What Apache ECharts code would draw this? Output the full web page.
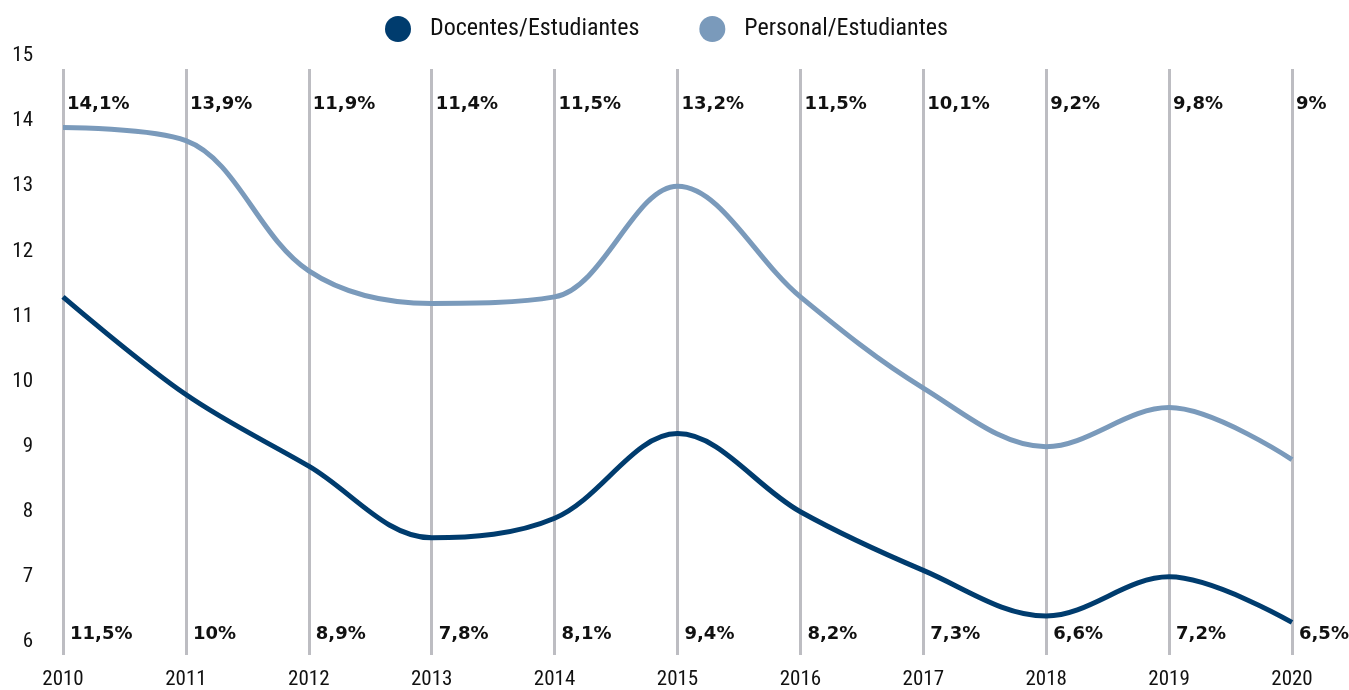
<!DOCTYPE html>
<html>
<head>
<meta charset="utf-8">
<script src="https://cdn.jsdelivr.net/npm/echarts@6/dist/echarts.min.js"></script>
<style>
  html, body { margin: 0; padding: 0; background: #ffffff; }
  #chart { width: 1349px; height: 690px; }
</style>
</head>
<body>
<div id="chart"></div>
<script>
// Ratio series, 2010-2020
const years = ['2010', '2011', '2012', '2013', '2014', '2015', '2016', '2017', '2018', '2019', '2020'];
const docentes = [11.5, 10, 8.9, 7.8, 8.1, 9.4, 8.2, 7.3, 6.6, 7.2, 6.5];
const personal = [14.1, 13.9, 11.9, 11.4, 11.5, 13.2, 11.5, 10.1, 9.2, 9.8, 9.0];
const yTicks = [6, 7, 8, 9, 10, 11, 12, 13, 14, 15];

const DARK = '#003c6e';
const LIGHT = '#7a9abb';
const narrow = "'Liberation Sans Narrow', 'Roboto Condensed', Roboto, sans-serif";
const boldLabel = "'DejaVu Sans', sans-serif";

const fmt = v => String(v).replace('.', ',') + '%';

// Text row of values pinned near the top or bottom of the plot, one per year
function labelRow(values, rowValue, dx) {
  return {
    type: 'custom',
    silent: true,
    data: values.map((v, i) => [i, v]),
    encode: { x: 0, y: 1 },
    renderItem: function (params, api) {
      const p = api.coord([api.value(0), rowValue]);
      return {
        type: 'text',
        x: p[0] + dx,
        y: p[1],
        style: {
          text: fmt(api.value(1)),
          fill: '#111111',
          font: 'bold 18px ' + boldLabel,
          verticalAlign: 'middle',
          align: 'left'
        }
      };
    },
    z: 5
  };
}

const chart = echarts.init(document.getElementById('chart'));
chart.setOption({
  animation: false,
  backgroundColor: '#ffffff',
  legend: {
    top: 11,
    left: 380,
    icon: 'circle',
    itemWidth: 26,
    itemHeight: 26,
    itemGap: 60,
    textStyle: { fontFamily: narrow, fontSize: 24, color: '#111111', padding: [0, 0, 0, 14] },
    data: ['Docentes/Estudiantes', 'Personal/Estudiantes']
  },
  grid: { left: 63, right: 57, top: 69, bottom: 35 },
  xAxis: {
    type: 'category',
    data: years,
    boundaryGap: false,
    axisLine: { show: false },
    axisTick: { show: false },
    axisLabel: { fontFamily: narrow, fontSize: 21, color: '#111111', margin: 14 },
    splitLine: { show: true, lineStyle: { color: '#bdbdc2', width: 3 } }
  },
  yAxis: {
    type: 'value',
    min: yTicks[0],
    max: yTicks[yTicks.length - 1],
    interval: 1,
    axisLine: { show: false },
    axisTick: { show: false },
    splitLine: { show: false },
    axisLabel: {
      fontFamily: narrow, fontSize: 21, color: '#111111', margin: 30,
      verticalAlign: 'bottom', lineHeight: 26
    }
  },
  series: [
    {
      name: 'Docentes/Estudiantes',
      type: 'line',
      data: docentes,
      smooth: 0.35,
      symbol: 'none',
      color: DARK,
      lineStyle: { width: 5, color: DARK },
      z: 3
    },
    {
      name: 'Personal/Estudiantes',
      type: 'line',
      data: personal,
      smooth: 0.35,
      symbol: 'none',
      color: LIGHT,
      lineStyle: { width: 5, color: LIGHT },
      z: 3
    },
    labelRow(personal, 14.46, 4),
    labelRow(docentes, 6.32, 7)
  ]
});
</script>
</body>
</html>
